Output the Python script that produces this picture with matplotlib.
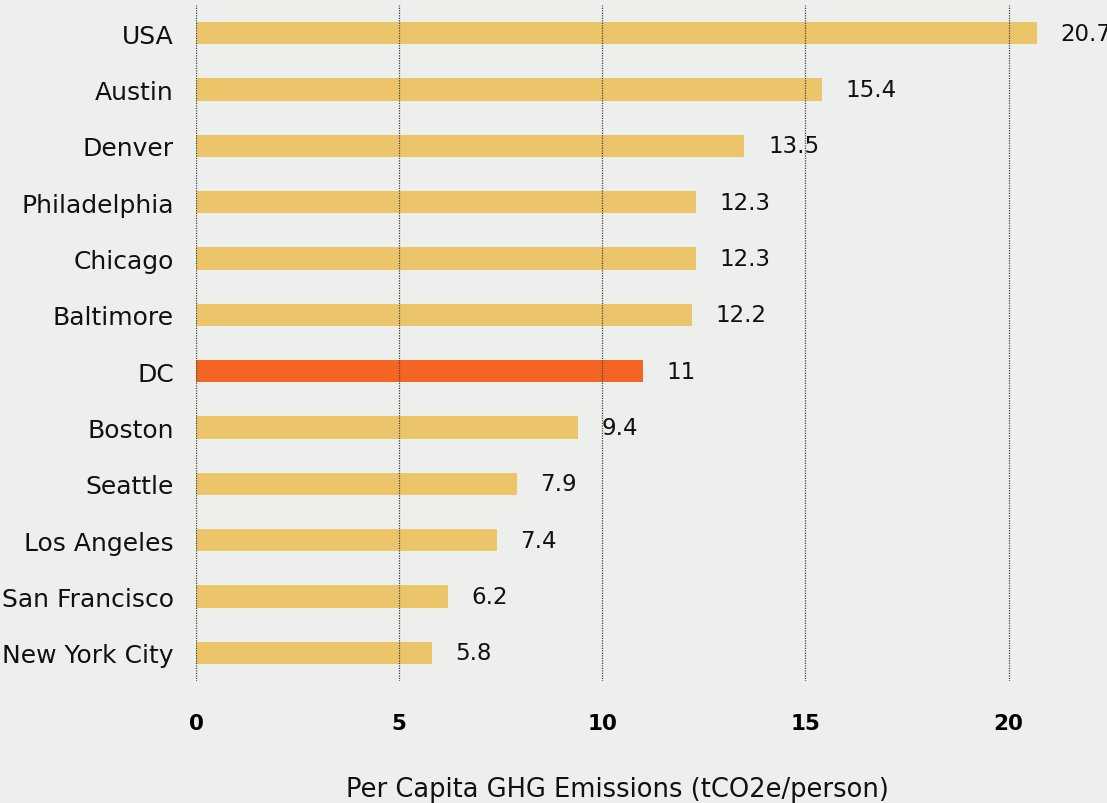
import matplotlib.pyplot as plt

cities = ['USA', 'Austin', 'Denver', 'Philadelphia', 'Chicago', 'Baltimore',
          'DC', 'Boston', 'Seattle', 'Los Angeles', 'San Francisco', 'New York City']
emissions = [20.7, 15.4, 13.5, 12.3, 12.3, 12.2, 11, 9.4, 7.9, 7.4, 6.2, 5.8]
labels = ['20.7', '15.4', '13.5', '12.3', '12.3', '12.2', '11', '9.4', '7.9', '7.4', '6.2', '5.8']
highlight = 'DC'

bg = '#EDEFEC'
plt.rcParams['font.family'] = ['DejaVu Sans']

fig = plt.figure(figsize=(11.07, 8.04), dpi=100, facecolor=bg)
ax = fig.add_axes([196 / 1107, 1 - 682 / 804, (1102 - 196) / 1107, 676 / 804])
ax.set_facecolor(bg)

colors = ['#F46523' if c == highlight else '#ECC56B' for c in cities]
ypos = list(range(len(cities)))
ax.barh(ypos, emissions, height=0.4, color=colors, zorder=2)

for y, v, t in zip(ypos, emissions, labels):
    ax.annotate(t, (v, y), xytext=(17, 0), textcoords='offset points',
                va='center', ha='left', fontsize=16.5, color='#111111')

ax.set_xlim(0, 22.3)
ax.set_ylim(11.5, -0.5)
ax.set_yticks(ypos)
ax.set_yticklabels(cities, fontsize=18, color='#111111')
ax.set_xticks([0, 5, 10, 15, 20])
ax.set_xticklabels(['0', '5', '10', '15', '20'], fontsize=15.5, fontweight='bold')
ax.tick_params(axis='both', length=0)
ax.tick_params(axis='y', pad=16)
ax.tick_params(axis='x', pad=23)

for x in [0, 5, 10, 15, 20]:
    ax.axvline(x, color='#444444', linestyle=(0, (1, 1)), linewidth=0.9, zorder=3)

for s in ax.spines.values():
    s.set_visible(False)

fig.text(617 / 1107, 1 - 790 / 804, 'Per Capita GHG Emissions (tCO2e/person)',
         ha='center', va='center', fontsize=18.5, color='#111111')

fig.savefig('out.png', dpi=100, facecolor=bg)
